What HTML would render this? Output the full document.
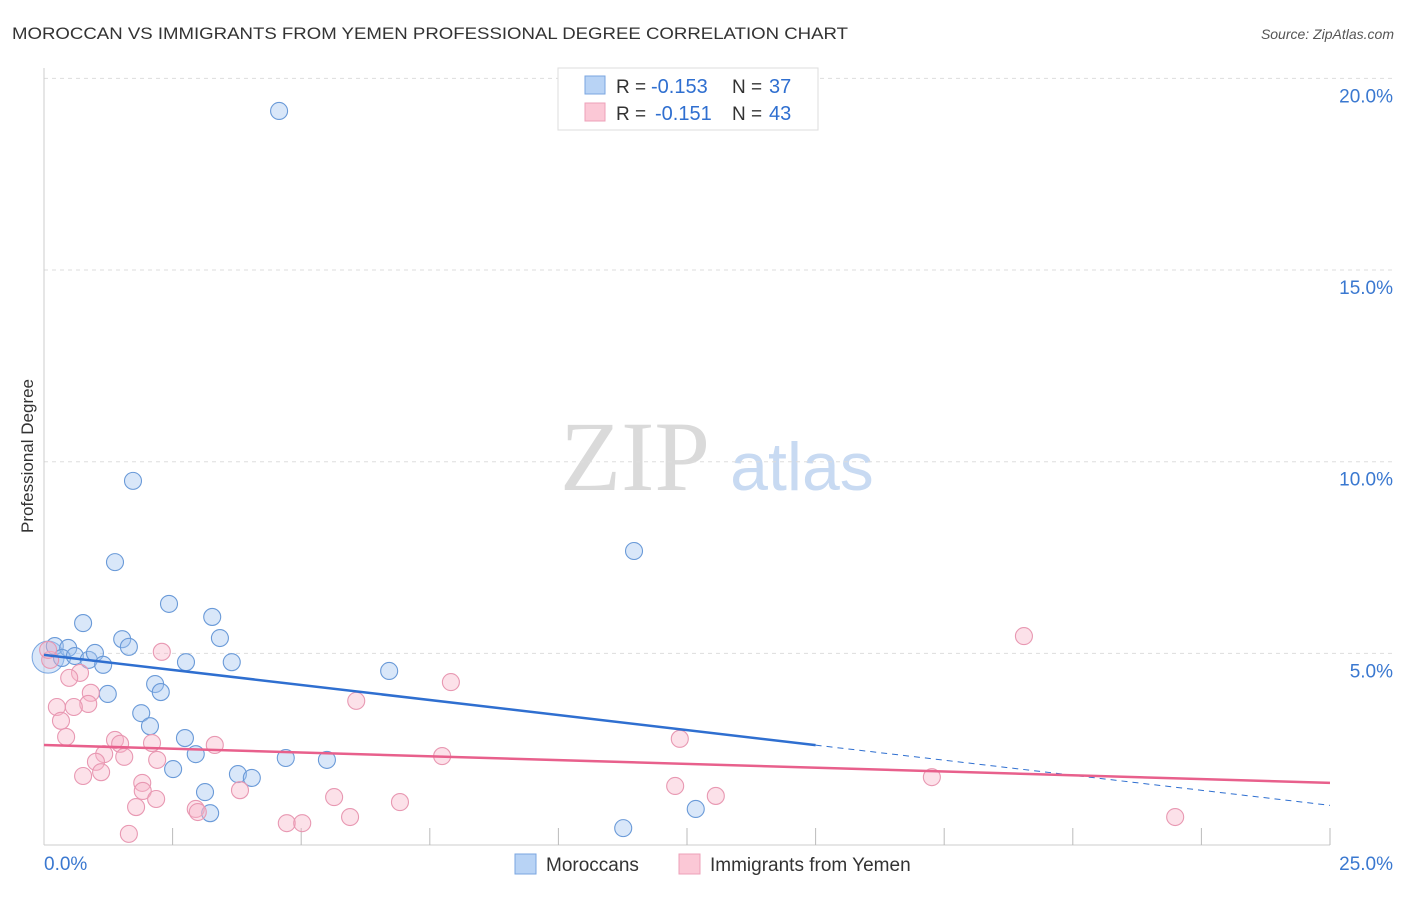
<!DOCTYPE html>
<html><head><meta charset="utf-8"><style>
body{margin:0;background:#fff;font-family:"Liberation Sans",sans-serif}
svg text{font-family:"Liberation Sans",sans-serif}
</style></head><body>
<svg id="c" width="1406" height="892">
<text x="12" y="39" font-size="17" fill="#333" textLength="836" lengthAdjust="spacingAndGlyphs">MOROCCAN VS IMMIGRANTS FROM YEMEN PROFESSIONAL DEGREE CORRELATION CHART</text>
<text x="1394" y="39" font-size="14" fill="#555" text-anchor="end" font-style="italic">Source: ZipAtlas.com</text>
<text x="0" y="0" transform="translate(33,456) rotate(-90)" font-size="17" fill="#333" text-anchor="middle">Professional Degree</text>
<g><text x="635" y="490" font-size="100" style="font-family:'Liberation Serif',serif" fill="#dadada" text-anchor="middle">ZIP</text><text x="802" y="490" font-size="68" fill="#c8daf2" text-anchor="middle">atlas</text></g>
<g id="grid"></g><g id="axes"></g><g id="pts"></g><g id="lines"></g>
<g>
<rect x="558" y="68" width="260" height="62" fill="#fff" stroke="#ddd"/>
<rect x="585" y="76" width="20" height="18" fill="#b8d3f5" stroke="#7aa6e0"/>
<rect x="585" y="103" width="20" height="18" fill="#fbc8d6" stroke="#eea0b8"/>
<text x="616" y="93" font-size="19" fill="#333">R =</text><text x="651" y="93" font-size="20" fill="#2f6fd0">-0.153</text>
<text x="732" y="93" font-size="19" fill="#333">N =</text><text x="769" y="93" font-size="20" fill="#2f6fd0">37</text>
<text x="616" y="120" font-size="19" fill="#333">R =</text><text x="655" y="120" font-size="20" fill="#2f6fd0">-0.151</text>
<text x="732" y="120" font-size="19" fill="#333">N =</text><text x="769" y="120" font-size="20" fill="#2f6fd0">43</text>
</g>
<g>
<rect x="515" y="854" width="21" height="20" fill="#b8d3f5" stroke="#7aa6e0"/>
<text x="546" y="871" font-size="19" fill="#333">Moroccans</text>
<rect x="679" y="854" width="21" height="20" fill="#fbc8d6" stroke="#eea0b8"/>
<text x="710" y="871" font-size="19" fill="#333">Immigrants from Yemen</text>
</g>
</svg>
<script>
const blueX=[4.57,1.73,1.38,11.47,2.43,3.27,0.76,3.42,1.52,1.65,0.21,0.47,0.35,0.60,0.87,0.99,1.15,2.76,3.65,6.71,2.16,2.27,1.24,1.89,2.06,2.74,2.95,2.51,4.70,5.50,3.77,4.04,3.13,3.23,12.67,11.26];
const blueY=[19.15,9.50,7.38,7.67,6.29,5.95,5.79,5.40,5.37,5.17,5.19,5.14,4.88,4.93,4.83,5.01,4.70,4.77,4.77,4.54,4.20,3.99,3.94,3.44,3.10,2.79,2.37,1.98,2.27,2.22,1.85,1.75,1.38,0.83,0.94,0.44];
const pinkX=[19.05,2.29,0.70,0.49,7.91,0.91,6.07,0.86,0.25,0.58,0.33,0.43,12.36,1.38,1.48,2.10,3.32,1.17,7.74,1.56,1.01,2.20,1.11,0.76,1.91,17.26,1.92,3.81,12.27,2.18,13.06,5.64,6.92,1.79,2.95,2.99,5.95,21.99,4.72,5.02,1.65,0.12,0.08];
const pinkY=[5.45,5.04,4.49,4.36,4.25,3.97,3.76,3.68,3.60,3.60,3.24,2.82,2.77,2.74,2.64,2.66,2.61,2.37,2.32,2.30,2.17,2.22,1.90,1.80,1.62,1.77,1.41,1.43,1.54,1.20,1.28,1.25,1.12,0.99,0.94,0.86,0.73,0.73,0.57,0.57,0.29,4.83,5.09];
const blueTrend=[4.96,-0.157], pinkTrend=[2.61,-0.0396];
const yTicks=[5,10,15,20], xTickLabels=["0.0%","25.0%"];
const NS="http://www.w3.org/2000/svg";
const X=v=>44+v/25*1286, Y=v=>845-v*38.33;
function mk(t,a,p){const e=document.createElementNS(NS,t);for(const k in a)e.setAttribute(k,a[k]);document.getElementById(p).appendChild(e);return e;}
yTicks.forEach(t=>{
 const l=mk('line',{x1:44,x2:1394,y1:Y(t),y2:Y(t),stroke:'#ddd','stroke-dasharray':'4,4'},'grid');
 
 
 const tx=mk('text',{x:1393,y:Y(t)+24,'font-size':19,fill:'#3a78d0','text-anchor':'end'},'grid');
 tx.textContent=t.toFixed(1)+'%';
 
 
});
mk('line',{x1:44,x2:44,y1:68,y2:845,stroke:'#ccc'},'axes');
mk('line',{x1:44,x2:1330,y1:845,y2:845,stroke:'#ccc'},'axes');
for(let i=1;i<=10;i++){const x=X(i*2.5);const t=mk('line',{x1:x,x2:x,y1:828,y2:845,stroke:'#bbb'},'axes');}
const l0=mk('text',{x:44,y:870,'font-size':19,fill:'#3a78d0'},'axes');l0.textContent=xTickLabels[0];


const l1=mk('text',{x:1393,y:870,'font-size':19,fill:'#3a78d0','text-anchor':'end'},'axes');l1.textContent=xTickLabels[1];


mk('circle',{cx:X(0.08),cy:Y(4.9),r:16,fill:'rgba(160,196,240,0.4)',stroke:'#7aa6e0'},'pts');
blueX.forEach((x,i)=>{const c=mk('circle',{cx:X(x),cy:Y(blueY[i]),r:8.5,fill:'rgba(160,196,240,0.4)',stroke:'#6a9ad8','stroke-width':1.1},'pts');
 
 });
pinkX.forEach((x,i)=>{const c=mk('circle',{cx:X(x),cy:Y(pinkY[i]),r:8.5,fill:'rgba(248,180,200,0.4)',stroke:'#e898b2','stroke-width':1.1},'pts');
 
 });
const bt=x=>blueTrend[0]+blueTrend[1]*x, pt=x=>pinkTrend[0]+pinkTrend[1]*x;
const b1=mk('line',{x1:X(0),y1:Y(bt(0)),x2:X(15),y2:Y(bt(15)),stroke:'#2f6fd0','stroke-width':2.5},'lines');


const b2=mk('line',{x1:X(15),y1:Y(bt(15)),x2:X(25),y2:Y(bt(25)),stroke:'#2f6fd0','stroke-width':1,'stroke-dasharray':'6,5'},'lines');


const p1=mk('line',{x1:X(0),y1:Y(pt(0)),x2:X(25),y2:Y(pt(25)),stroke:'#e8608c','stroke-width':2.5},'lines');


</script>
</body></html>
